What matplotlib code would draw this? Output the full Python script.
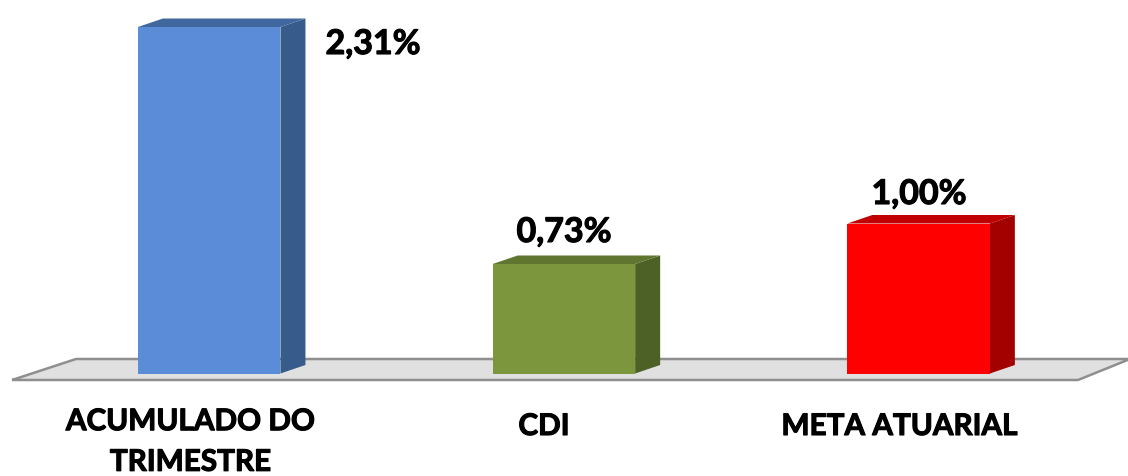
import matplotlib
matplotlib.use("Agg")
import matplotlib.pyplot as plt
import matplotlib.patheffects as pe
from matplotlib.patches import Polygon

categories = ["ACUMULADO DO\nTRIMESTRE", "CDI", "META ATUARIAL"]
values = [2.31, 0.73, 1.00]
value_labels = ["2,31%", "0,73%", "1,00%"]
front_colors = ["#5b8cd8", "#7c963d", "#ff0000"]
top_colors = ["#41679f", "#5f7530", "#c00000"]
side_colors = ["#375c8c", "#4d6026", "#a30000"]

W, H = 1128, 477
BASE_PX, UNIT_PX = 374.5, 150.0
CENTER_PX, STEP_PX = 209.2, 354.7

fig = plt.figure(figsize=(W / 100, H / 100), dpi=100, facecolor="white")
ax = fig.add_axes([0, 0, 1, 1])
ax.set_xlim(-CENTER_PX / STEP_PX, (W - CENTER_PX) / STEP_PX)
ax.set_ylim(-(H - BASE_PX) / UNIT_PX, BASE_PX / UNIT_PX)
ax.axis("off")

px = 1 / STEP_PX
py = 1 / UNIT_PX
bar_w = 142.5 * px
dx, dy = 25 * px, 8.5 * py

def X(p):
    return (p - CENTER_PX) * px

def Y(p):
    return (BASE_PX - p) * py

# floor
floor = [(X(12), Y(381)), (X(1078), Y(381)), (X(1130), Y(360)), (X(76), Y(360))]
ax.add_patch(Polygon(floor, closed=False, facecolor="#e0e0e0", edgecolor="none", zorder=1))
ax.add_patch(Polygon(floor, closed=True, facecolor="none", edgecolor="#8f8f8f", linewidth=1.8, zorder=2))

for i, v in enumerate(values):
    l, r = i - bar_w / 2, i + bar_w / 2
    ax.bar(i, v, width=bar_w, color=front_colors[i], linewidth=0, zorder=5)
    ax.add_patch(Polygon([(r, 0), (r + dx, dy), (r + dx, v + dy), (r, v)],
                         facecolor=side_colors[i], edgecolor="none", zorder=4))
    ax.add_patch(Polygon([(l, v), (r, v), (r + dx, v + dy), (l + dx, v + dy)],
                         facecolor=top_colors[i], edgecolor="none", zorder=4))

heavy = [pe.withStroke(linewidth=0.8, foreground="black")]
font = dict(family="Lato", fontweight="bold", color="black", zorder=6, path_effects=heavy)
label_pos = [(373, 45), (564, 233), (919, 195)]
for (x, y), t in zip(label_pos, value_labels):
    ax.text(X(x), Y(y), t, ha="center", va="center", fontsize=24.5, **font)

axis_pos = [(190.5, 442.5), (544, 427), (899.5, 427)]
for (x, y), t in zip(axis_pos, categories):
    ax.text(X(x), Y(y), t, ha="center", va="center", fontsize=21.4, linespacing=1.55, **font)

fig.savefig("out.png", dpi=100)
